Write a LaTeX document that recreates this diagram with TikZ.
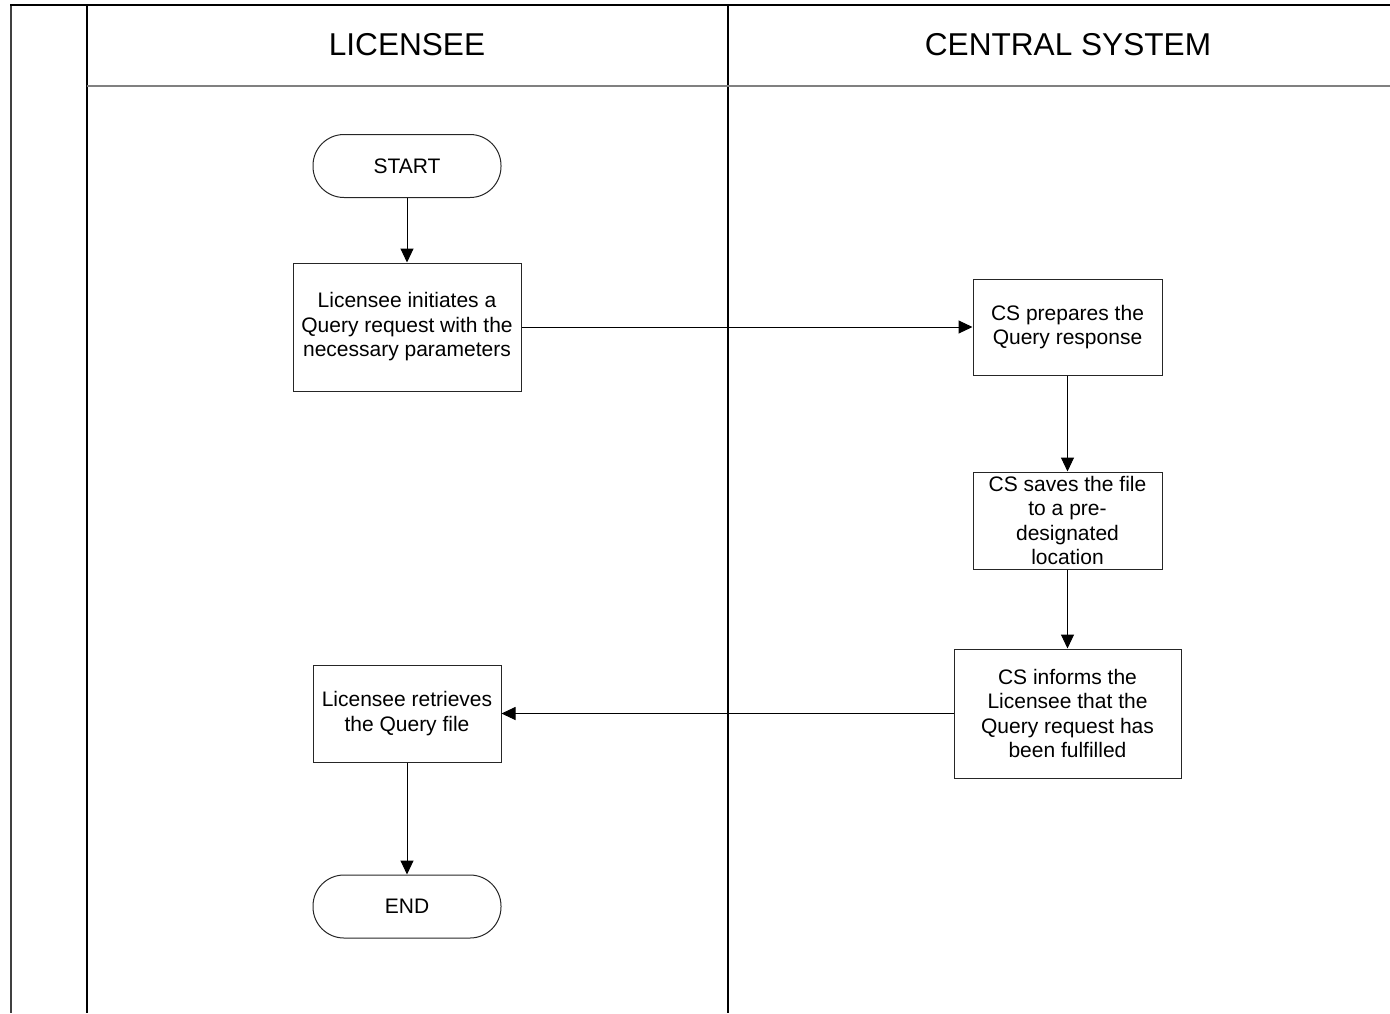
\documentclass[tikz,border=0pt]{standalone}
\usepackage{fontspec}
\setmainfont{Liberation Sans}
\usetikzlibrary{arrows.meta}
\definecolor{framegray}{HTML}{404040}
\definecolor{headgray}{HTML}{808080}
\begin{document}
\begin{tikzpicture}[x=1pt,y=-1pt,
  txt/.style={font=\fontsize{21}{24.5}\selectfont, align=center, inner sep=0pt},
  box/.style={txt, draw=black!85, line width=1pt, rectangle},
  term/.style={txt, draw=black!85, line width=1pt, rectangle, rounded corners=31pt, minimum width=188, minimum height=63},
  head/.style={font=\fontsize{31.6}{36}\selectfont, inner sep=0pt},
  arr/.style={draw=black, line width=1pt, -{Triangle[length=14pt,width=13pt]}}]
\useasboundingbox (0,0) rectangle (1390,1013);
% frame and lanes
\draw[framegray, line width=2.2pt] (11,5) -- (11,1013);
\draw[black, line width=1.6pt] (10,5) -- (1390,5);
\draw[black, line width=1.5pt] (87,5) -- (87,1013);
\draw[black, line width=1.5pt] (728,5) -- (728,1013);
\draw[headgray, line width=2.2pt] (87,86) -- (1390,86);
\node[head] (h1) at (407,45) {LICENSEE};
\node[head] (h2) at (1068,45) {CENTRAL SYSTEM};
% nodes
\node[term] (start) at (407,166) {START};
\node[box, minimum width=228, minimum height=128] (b1) at (407,327) {Licensee initiates a\\Query request with the\\necessary parameters};
\node[box, minimum width=189, minimum height=96] (b2) at (1067.5,327) {CS prepares the\\Query response};
\node[box, minimum width=189, minimum height=97] (b3) at (1067.5,520.5) {CS saves the file\\to a pre-\\designated\\location};
\node[box, minimum width=227, minimum height=129] (b4) at (1067.5,713.5) {CS informs the\\Licensee that the\\Query request has\\been fulfilled};
\node[box, minimum width=188, minimum height=97] (b5) at (407,713.5) {Licensee retrieves\\the Query file};
\node[term] (end) at (407,906.5) {END};
% connectors
\draw[arr] (start) -- (b1);
\draw[arr] (b1) -- (b2);
\draw[arr] (b2) -- (b3);
\draw[arr] (b3) -- (b4);
\draw[arr] (b4) -- (b5);
\draw[arr] (b5) -- (end);
\end{tikzpicture}
\end{document}
